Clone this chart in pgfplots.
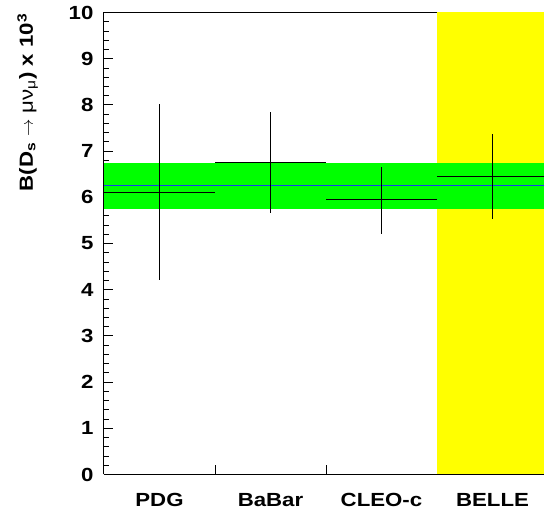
\documentclass[border=0pt]{standalone}
\usepackage{fontspec}
\setmainfont[FakeStretch=1.17]{Liberation Sans}
\usepackage{pgfplots}
\pgfplotsset{compat=1.18}

\definecolor{bandgreen}{RGB}{0,255,0}
\definecolor{belleyellow}{RGB}{255,255,0}
\definecolor{avgblue}{RGB}{20,60,240}

\begin{document}
\begin{tikzpicture}
\begin{axis}[
    scale only axis,
    width=444pt, height=462pt,
    xmin=0, xmax=4,
    ymin=0, ymax=10,
    axis x line*=box,
    axis y line*=left,
    xtick pos=bottom,
    ytick pos=left,
    tick align=inside,
    xtick={1,2,3},
    xticklabels={},
    extra x ticks={0.5,1.5,2.5,3.5},
    extra x tick labels={PDG,BaBar,CLEO-c,BELLE},
    extra x tick style={major tick length=0pt,
        tick label style={font=\fontsize{19}{22}\selectfont\bfseries, yshift=-15pt}},
    ytick={0,1,...,10},
    minor y tick num=4,
    major tick length=9pt,
    minor tick length=5pt,
    tick style={black, line width=0.8pt},
    axis line style={line width=1pt},
    /pgf/number format/assume math mode=true,
    yticklabel style={font=\fontsize{19}{22}\selectfont\bfseries, xshift=-7pt},
    ylabel={\fontsize{19}{22}\selectfont\bfseries B(D\textsubscript{s} $\rightarrow$ {\mdseries μν\textsubscript{μ}}) x 10\textsuperscript{3}},
    ylabel style={at={(axis description cs:-0.172,0.805)}, anchor=center},
]
% BELLE shading
\addplot[fill=belleyellow, draw=none] coordinates {(3,0) (4,0) (4,10) (3,10)} -- cycle;
% average band
\addplot[fill=bandgreen, draw=none] coordinates {(0,5.75) (4,5.75) (4,6.75) (0,6.75)} -- cycle;
\addplot[avgblue, line width=1.4pt] coordinates {(0,6.25) (4,6.25)};
% measurements
\addplot[draw=none, mark=none,
    error bars/.cd, x dir=both, x explicit, y dir=both, y explicit,
    error mark=none, error bar style={black, line width=1pt}]
    coordinates {
    (0.5,6.11) += (0.5,1.90) -= (0.5,1.90)
    (1.5,6.75) += (0.5,1.09) -= (0.5,1.09)
    (2.5,5.95) += (0.5,0.71) -= (0.5,0.74)
    (3.5,6.45) += (0.5,0.91) -= (0.5,0.92)
    };
\end{axis}
\pgfresetboundingbox
\path (-104pt,-52.5pt) rectangle (440pt,474.5pt);
\end{tikzpicture}
\end{document}
